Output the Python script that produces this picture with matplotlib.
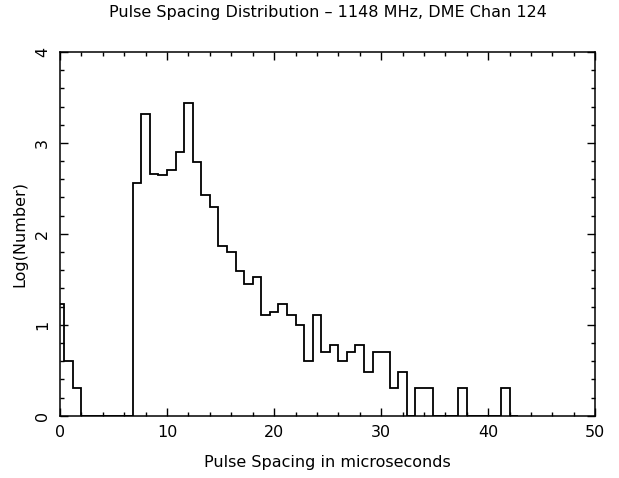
import matplotlib
matplotlib.use("Agg")
import matplotlib.pyplot as plt
import numpy as np
from matplotlib.ticker import MultipleLocator

# log10 of counts per 0.8 us bin, bins centred on 0, 0.8, 1.6, ...
bin_width = 0.8
log_counts = [
    1.23, 0.60, 0.30, 0, 0, 0, 0, 0, 0,
    2.56, 3.32, 2.66, 2.65, 2.70, 2.90, 3.44, 2.79, 2.43, 2.29,
    1.87, 1.80, 1.59, 1.45, 1.52, 1.11, 1.14, 1.23, 1.11, 1.00,
    0.60, 1.11, 0.70, 0.78, 0.60, 0.70, 0.78, 0.48, 0.70, 0.70,
    0.30, 0.48, 0, 0.30, 0.30, 0, 0, 0, 0.30, 0, 0, 0, 0, 0.30, 0,
]

title = "Pulse Spacing Distribution \u2013 1148 MHz, DME Chan 124"
xlabel = "Pulse Spacing in microseconds"
ylabel = "Log(Number)"

fig = plt.figure(figsize=(6.19, 4.78), dpi=100)
ax = fig.add_axes([60 / 619, 1 - 415.7 / 478, 535.3 / 619, 363.7 / 478])

edges = (np.arange(len(log_counts) + 1) - 0.5) * bin_width
ax.stairs(log_counts, edges, baseline=0, color="black", linewidth=1.3)

ax.set_xlim(0, 50)
ax.set_ylim(0, 4)
ax.xaxis.set_major_locator(MultipleLocator(10))
ax.xaxis.set_minor_locator(MultipleLocator(2))
ax.yaxis.set_major_locator(MultipleLocator(1))
ax.yaxis.set_minor_locator(MultipleLocator(0.2))
ax.tick_params(which="both", direction="in", top=True, right=True,
               width=1.0, labelsize=11.5, color="black")
ax.tick_params(which="major", length=6, pad=7)
ax.tick_params(which="minor", length=3)
for lab in ax.get_yticklabels():
    lab.set_rotation(90)
    lab.set_va("center")
for s in ax.spines.values():
    s.set_linewidth(1.1)

# texts centred on the plot box, as in the original
xc = (60 + 535.3 / 2) / 619
fig.text(xc, 1 - 13 / 478, title, ha="center", va="center", fontsize=11.5)
fig.text(xc, 1 - 463 / 478, xlabel, ha="center", va="center", fontsize=11.5)
fig.text(20 / 619, 1 - 234 / 478, ylabel, ha="center", va="center",
         rotation=90, fontsize=11.5)

fig.savefig("out.png", dpi=100)
